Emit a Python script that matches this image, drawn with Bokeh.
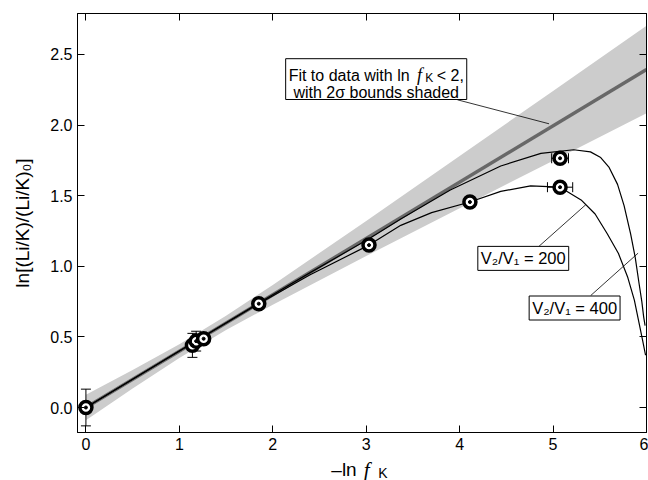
from bokeh.plotting import figure
from bokeh.models import (Range1d, LinearAxis, FixedTicker, Label, BoxAnnotation,
                          PrintfTickFormatter)
from bokeh.core.properties import value
from bokeh.layouts import column
from bokeh.embed import file_html
from bokeh.resources import INLINE
import math

# ---------------- data ----------------
pts_x = [0.0, 1.14, 1.18, 1.26, 1.85, 3.03, 4.11, 5.075, 5.075]
pts_y = [0.0, 0.44, 0.47, 0.487, 0.735, 1.15, 1.455, 1.765, 1.56]
pts_yerr = [0.13, 0.085, 0.07, 0.0, 0.0, 0.0, 0.0, 0.0, 0.0]
pts_xerr = [0.0, 0.0, 0.0, 0.0, 0.0, 0.0, 0.0, 0.09, 0.135]

fit_x = [0.0, 6.0]
fit_y = [0.0, 2.394]

band_x = [0.0, 0.5, 1.0, 1.5, 2.0, 3.0, 4.0, 5.0, 6.0]
band_hi = [0.09, 0.265, 0.448, 0.65, 0.868, 1.321, 1.781, 2.242, 2.704]
band_lo = [-0.09, 0.135, 0.35, 0.548, 0.728, 1.073, 1.411, 1.748, 2.084]

c400_x = [0.0, 1.0, 1.85, 2.4, 3.03, 3.37, 3.90, 4.44, 4.87, 5.22, 5.40, 5.51, 5.60,
          5.69, 5.76, 5.83, 5.88, 5.92, 5.95, 5.97, 5.985]
c400_y = [0.0, 0.40, 0.74, 0.955, 1.195, 1.335, 1.54, 1.71, 1.80, 1.825, 1.81, 1.77, 1.70,
          1.58, 1.43, 1.23, 1.06, 0.88, 0.75, 0.64, 0.58]

c200_x = [0.0, 1.0, 1.85, 2.4, 3.03, 3.37, 3.7, 4.11, 4.44, 4.76, 5.075, 5.30, 5.45,
          5.58, 5.70, 5.80, 5.87, 5.92, 5.96, 5.99]
c200_y = [0.0, 0.40, 0.735, 0.94, 1.15, 1.29, 1.38, 1.455, 1.53, 1.57, 1.56, 1.47, 1.37,
          1.23, 1.09, 0.92, 0.76, 0.60, 0.47, 0.37]

x_ticks = [0, 1, 2, 3, 4, 5, 6]
y_ticks = [0.0, 0.5, 1.0, 1.5, 2.0, 2.5]

FONT = "Liberation Sans"

xr = Range1d(-0.09, 6.0)
p = figure(width=648, height=456, x_range=xr, y_range=Range1d(-0.177, 2.79),
           output_backend="svg", toolbar_location=None,
           min_border_left=77, min_border_right=2, min_border_top=13, min_border_bottom=24)
p.xgrid.visible = False
p.ygrid.visible = False
p.outline_line_color = "black"
p.outline_line_width = 1
p.background_fill_color = "white"
p.border_fill_color = "white"

def style_axis(ax, ticks, labels=True):
    ax.ticker = FixedTicker(ticks=ticks)
    ax.major_tick_in = 7
    ax.major_tick_out = 0
    ax.minor_tick_in = 0
    ax.minor_tick_out = 0
    ax.axis_line_color = "black"
    ax.major_tick_line_color = "black"
    ax.major_label_text_font = FONT
    if labels:
        ax.major_label_text_font_size = "16px"
        ax.major_label_text_color = "black"
    else:
        ax.major_label_text_font_size = "0px"
        ax.major_label_text_color = None
        ax.major_label_standoff = 0

style_axis(p.xaxis[0], x_ticks)
style_axis(p.yaxis[0], y_ticks)
p.xaxis[0].major_label_standoff = 5
p.yaxis[0].major_label_standoff = 5
p.yaxis[0].formatter = PrintfTickFormatter(format="%.1f")
p.yaxis[0].axis_label = "ln[(Li/K)/(Li/K)₀]"
p.yaxis[0].axis_label_text_font = FONT
p.yaxis[0].axis_label_text_font_size = "19px"
p.yaxis[0].axis_label_text_font_style = "normal"
p.yaxis[0].axis_label_text_color = "black"
p.yaxis[0].axis_label_standoff = 14

top_ax = LinearAxis()
style_axis(top_ax, x_ticks, labels=False)
p.add_layout(top_ax, "above")
right_ax = LinearAxis()
style_axis(right_ax, y_ticks, labels=False)
p.add_layout(right_ax, "right")

# band and fit
p.varea(x=band_x, y1=band_lo, y2=band_hi, fill_color="#cccccc")
p.line(fit_x, fit_y, line_color="#686868", line_width=3.5)

# model curves
p.line(c400_x, c400_y, line_color="black", line_width=1.2)
p.line(c200_x, c200_y, line_color="black", line_width=1.2)

# error bars
ye_x = [x for x, e in zip(pts_x, pts_yerr) if e > 0]
ye_lo = [y - e for y, e in zip(pts_y, pts_yerr) if e > 0]
ye_hi = [y + e for y, e in zip(pts_y, pts_yerr) if e > 0]
p.segment(x0=ye_x, y0=ye_lo, x1=ye_x, y1=ye_hi, line_color="black", line_width=1)
p.scatter(x=ye_x + ye_x, y=ye_lo + ye_hi, marker="dash", size=10, line_color="black", line_width=1)

xe_y = [y for y, e in zip(pts_y, pts_xerr) if e > 0]
xe_lo = [x - e for x, e in zip(pts_x, pts_xerr) if e > 0]
xe_hi = [x + e for x, e in zip(pts_x, pts_xerr) if e > 0]
p.segment(x0=xe_lo, y0=xe_y, x1=xe_hi, y1=xe_y, line_color="black", line_width=1)
p.scatter(x=xe_lo + xe_hi, y=xe_y + xe_y, marker="dash", size=10, angle=math.pi / 2,
          line_color="black", line_width=1)

# bullseye markers
p.scatter(x=pts_x, y=pts_y, marker="circle", size=12, fill_color="white",
          line_color="black", line_width=3.5)
p.scatter(x=pts_x, y=pts_y, marker="circle", size=3, fill_color="black", line_color="black")

# fit annotation box
p.add_layout(BoxAnnotation(left=2.138, right=4.076, top=2.470, bottom=2.181,
                           fill_color="white", fill_alpha=1.0, line_color="black",
                           line_width=1, line_alpha=1.0))
lbl_kw = dict(text_baseline="alphabetic", text_font=FONT, text_font_size="16px",
              text_color="black")
p.add_layout(Label(x=2.170, y=2.351, text="Fit to data with ln", text_align="left", **lbl_kw))
p.add_layout(Label(x=3.545, y=2.351, text="f", text_align="left", text_baseline="alphabetic",
                   text_font="Liberation Serif", text_font_style="italic",
                   text_font_size="18px", text_color="black"))
p.add_layout(Label(x=3.632, y=2.330, text="K", text_align="left", text_baseline="alphabetic",
                   text_font=FONT, text_font_size="12px", text_color="black"))
p.add_layout(Label(x=3.755, y=2.351, text="< 2,", text_align="left", **lbl_kw))
p.add_layout(Label(x=3.107, y=2.233, text="with 2σ bounds shaded", text_align="center", **lbl_kw))

# leader lines
p.segment(x0=[3.976, 4.850, 5.403], y0=[2.179, 1.142, 0.793],
          x1=[4.957, 5.350, 5.910], y1=[2.009, 1.436, 1.093],
          line_color="black", line_width=0.8)

# ratio labels
for cx, cy, t in [(4.681, 1.056, "V₂/V₁ = 200"), (5.2305, 0.7045, "V₂/V₁ = 400")]:
    p.add_layout(Label(x=cx, y=cy, text=t, text_align="center", text_baseline="middle",
                       text_font=FONT, text_font_size="16.5px", text_color="black",
                       border_line_color="black", border_line_width=1,
                       background_fill_color="white", background_fill_alpha=1.0, padding=3))

# x-axis title strip (mixed styles: "–ln", italic "f", subscript "K"); shares the x scale
q = figure(width=648, height=24, x_range=xr, y_range=Range1d(0, 24),
           output_backend="svg", toolbar_location=None,
           min_border_left=77, min_border_right=2, min_border_top=0, min_border_bottom=0)
q.axis.visible = False
q.xgrid.visible = False
q.ygrid.visible = False
q.outline_line_color = None
q.border_fill_color = "white"
q.text(x=[2.898], y=[11], text=["–ln"], text_align="right", text_baseline="alphabetic",
       text_font=value(FONT), text_font_size="19px", text_color="black")
q.text(x=[2.975], y=[11], text=["f"], text_align="left", text_baseline="alphabetic",
       text_font=value("Liberation Serif"), text_font_style="italic", text_font_size="21px",
       text_color="black")
q.text(x=[3.129], y=[8], text=["K"], text_align="left", text_baseline="alphabetic",
       text_font=value(FONT), text_font_size="14px", text_color="black")

open("out.html", "w").write(file_html(column(p, q, spacing=0), INLINE))
